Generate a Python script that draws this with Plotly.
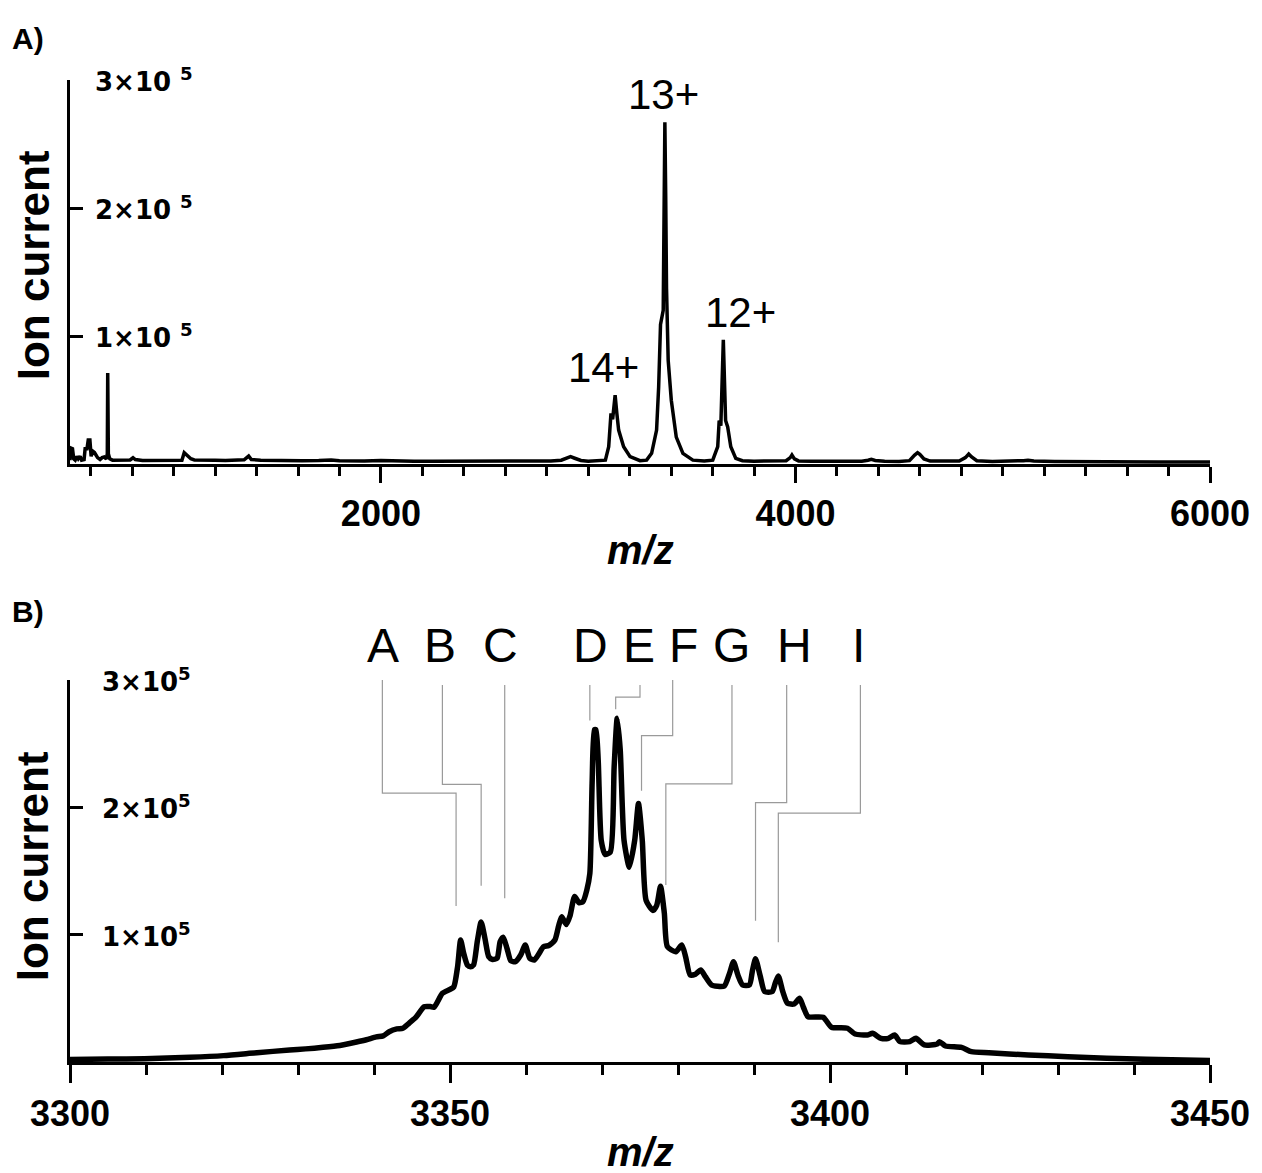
import plotly.graph_objects as go

# ---------------- Panel A: full spectrum ----------------
mz_a = [500, 505, 512, 518, 525, 533, 540, 549, 556, 568, 573, 582, 588, 596, 602, 610, 618, 625,
        633, 645, 655, 665, 675, 680, 682, 685, 692, 705, 720, 760, 790, 804, 815, 850, 900, 950,
        1000, 1040, 1051, 1065, 1083, 1100, 1150, 1200, 1250, 1300, 1340, 1362, 1375, 1420, 1480,
        1550, 1620, 1700, 1760, 1800, 1860, 1920, 2000, 2080, 2160, 2250, 2350, 2450, 2550, 2650,
        2750, 2820, 2870, 2900, 2915, 2935, 2965, 3000, 3050, 3083, 3099, 3110, 3118, 3130, 3138,
        3147, 3171, 3202, 3250, 3282, 3306, 3330, 3340, 3349, 3362, 3370, 3374, 3378, 3386, 3401,
        3425, 3457, 3505, 3560, 3601, 3625, 3632, 3640, 3652, 3663, 3673, 3688, 3712, 3744, 3800,
        3860, 3920, 3955, 3975, 3983, 3995, 4015, 4080, 4160, 4250, 4320, 4350, 4366, 4385, 4430,
        4500, 4550, 4575, 4589, 4600, 4620, 4650, 4720, 4790, 4820, 4836, 4850, 4875, 4950, 5050,
        5100, 5122, 5150, 5250, 5350, 5450, 5550, 5650, 5750, 5850, 5950, 6000]
int_a = [3000, 12500, 12000, 4000, 3000, 6000, 4000, 6000, 3000, 3500, 12000, 12000, 18700, 18700,
         6000, 10000, 9000, 6500, 5000, 3500, 5000, 5500, 4000, 8000, 71000, 8000, 4000, 3000, 3000,
         2800, 3200, 4900, 3500, 2800, 2800, 2600, 2800, 3000, 8800, 6500, 4100, 3200, 2800, 3000,
         2800, 3000, 3300, 6200, 3500, 3000, 2700, 2800, 2600, 2800, 3200, 2600, 2400, 2400, 2700,
         2300, 2200, 2200, 2100, 2100, 2000, 2000, 2100, 2300, 3000, 4500, 5700, 4500, 2800, 2200,
         2300, 3000, 13500, 39500, 35000, 53700, 40000, 26500, 13500, 5700, 2600, 3000, 8300, 26500,
         60000, 109000, 120000, 267000, 210000, 137000, 81000, 49800, 21000, 8300, 3000, 2300, 3000,
         13500, 34000, 30000, 97000, 34000, 29000, 13500, 4400, 2600, 2200, 2100, 2200, 2600, 5000,
         7000, 4000, 2400, 2100, 2000, 2000, 2200, 3000, 3600, 2800, 2100, 2000, 2600, 7000, 8800,
         7500, 4000, 2300, 2000, 2300, 5000, 7800, 5500, 2600, 2000, 2000, 2600, 3000, 2400, 2000,
         1800, 1800, 1700, 1700, 1600, 1600, 1500, 1500]

charge_labels = ["14+", "13+", "12+"]
charge_label_mz = [3072, 3363, 3734]
charge_label_int = [75500, 288700, 118000]

# ---------------- Panel B: zoom on 13+ ----------------
mz_b = [3300.0, 3305.0, 3309.8, 3315.8, 3320.2, 3324.6, 3328.9, 3331.0, 3333.3, 3335.5, 3337.7,
        3339.0, 3340.3, 3341.2, 3342.0, 3343.0, 3343.8, 3344.6, 3345.5, 3346.6, 3347.4, 3347.9,
        3349.0, 3350.0, 3350.5, 3351.0, 3351.4, 3351.8, 3352.3, 3352.7, 3353.1, 3353.6, 3354.1,
        3354.6, 3355.1, 3355.6, 3356.2, 3356.6, 3357.0, 3357.5, 3358.0, 3358.6, 3359.3, 3359.9,
        3360.5, 3361.1, 3361.7, 3362.3, 3363.0, 3363.8, 3364.3, 3364.7, 3365.3, 3365.8, 3366.4,
        3367.0, 3367.5, 3368.0, 3368.4, 3368.7, 3369.0, 3369.2, 3369.5, 3369.9, 3370.4, 3371.1,
        3371.6, 3372.0, 3372.4, 3372.9, 3373.6, 3374.3, 3374.8, 3375.3, 3375.8, 3376.7, 3377.2,
        3377.7, 3378.2, 3378.6, 3379.7, 3380.5, 3381.0, 3381.6, 3382.3, 3383.0, 3383.6, 3384.4,
        3385.2, 3386.1, 3386.8, 3387.3, 3387.9, 3388.5, 3389.4, 3389.8, 3390.2, 3390.8, 3391.4,
        3392.4, 3392.8, 3393.2, 3393.8, 3394.4, 3395.3, 3396.0, 3396.5, 3397.1, 3399.1, 3400.2,
        3402.3, 3403.3, 3404.9, 3405.6, 3406.7, 3407.7, 3408.5, 3409.2, 3410.5, 3411.3, 3412.4,
        3414.1, 3414.4, 3415.2, 3417.3, 3418.6, 3420.9, 3426.1, 3431.3, 3436.4, 3441.6, 3450.0]
int_b = [2000, 2300, 2600, 3700, 5000, 7300, 9400, 10300, 11500, 13000, 15700,
         17500, 19700, 20500, 23800, 26000, 26500, 30400, 35000, 43400, 43500, 43000,
         54000, 57000, 59000, 74900, 95800, 85400, 76000, 74900, 76200, 95000, 110000,
         97000, 82700, 80500, 81500, 94500, 98000, 89300, 79500, 78800, 84000, 91900,
         81500, 80100, 85000, 90500, 91500, 95800, 107000, 114000, 108000, 115000, 130000,
         125000, 126000, 135000, 148000, 219000, 261000, 261000, 237000, 174000, 163000, 165000,
         232000, 270000, 245000, 174000, 153000, 174000, 203000, 174000, 127000, 119000, 123000,
         138000, 117000, 90600, 86600, 91900, 82700, 68300, 69000, 72300, 67000, 60500,
         59500, 59700, 70000, 78800, 68000, 60500, 60500, 72000, 81000, 68000, 55300,
         55300, 62000, 67600, 55000, 46100, 45600, 50000, 43000, 35600, 35100, 27300,
         26500, 22000, 21200, 22500, 18600, 18600, 21200, 16000, 16000, 18600, 13400,
         14100, 16000, 12600, 11500, 8100, 7300, 5500, 4200, 2900, 2100, 1200]

# Species labels and their connector geometry (in m/z and ion-current units)
species = ["A", "B", "C", "D", "E", "F", "G", "H", "I"]
species_text_mz = [3341.2, 3348.7, 3356.7, 3368.5, 3374.9, 3380.7, 3387.0, 3395.3, 3403.8]
conn_top_mz = [3341.1, 3349.0, 3357.2, 3368.4, 3375.0, 3379.3, 3387.1, 3394.3, 3404.0]
conn_peak_mz = [3350.8, 3354.1, 3357.2, 3368.4, 3371.8, 3375.2, 3378.4, 3390.2, 3393.2]
conn_top_int = [300000, 296000, 296000, 296000, 296000, 300000, 296000, 296000, 296000]
conn_elbow_int = [211100, 218100, None, None, 286500, 256300, 218400, 203700, 195400]
conn_end_int = [122500, 138500, 128600, 268100, 277100, 213100, 139000, 111000, 94000]

y_tickvals = [100000, 200000, 300000]

# ---------------- Figure ----------------
FONT = "Liberation Sans, Arial, sans-serif"
W, H = 1262, 1173
ML, MR, MT, MB = 70, 44, 80, 111
PW, PH = W - ML - MR, H - MT - MB


def px_x(p):
    return (p - ML) / PW


def px_y(p):
    return (H - MB - p) / PH


fig = go.Figure()
fig.add_trace(go.Scatter(x=mz_a, y=int_a, mode="lines", line=dict(color="black", width=3.5),
                         xaxis="x", yaxis="y", showlegend=False))
fig.add_trace(go.Scatter(x=mz_b, y=int_b, mode="lines",
                         line=dict(color="black", width=5.5, shape="spline", smoothing=0.6),
                         xaxis="x2", yaxis="y2", showlegend=False))

axis_common = dict(showline=True, linecolor="black", linewidth=3, showgrid=False, zeroline=False,
                   ticks="outside", tickcolor="black", tickwidth=3)
xfont = dict(family=FONT, size=36, weight="bold", color="black")

fig.update_layout(
    width=W, height=H, autosize=False, margin=dict(l=ML, r=MR, t=MT, b=MB, pad=0),
    plot_bgcolor="white", paper_bgcolor="white",
    font=dict(family=FONT, color="black"),
    xaxis=dict(axis_common, domain=[0, 1], anchor="y", range=[500, 6000], tick0=0, dtick=2000,
               ticklen=16, tickfont=xfont, ticklabeloverflow="allow",
               minor=dict(tick0=0, dtick=200, ticks="outside", ticklen=9, tickwidth=3, tickcolor="black")),
    yaxis=dict(axis_common, domain=[px_y(464), 1], anchor="x", range=[0, 300000],
               tickvals=y_tickvals, ticks="inside", ticklen=13, showticklabels=False),
    xaxis2=dict(axis_common, domain=[0, 1], anchor="y2", range=[3300, 3450], tick0=3300, dtick=50,
                ticklen=18, tickfont=xfont, ticklabeloverflow="allow",
                minor=dict(tick0=3300, dtick=10, ticks="outside", ticklen=10, tickwidth=3, tickcolor="black")),
    yaxis2=dict(axis_common, domain=[0, px_y(680)], anchor="x2", range=[0, 300000],
                tickvals=y_tickvals, ticks="inside", ticklen=13, showticklabels=False),
)

ann = []
# y tick labels (drawn inside, right of the ticks)
for v in y_tickvals:
    ann.append(dict(text=f"<b>{int(v / 1e5)}×10 <sup>5</sup></b>", x=px_x(93), y=v, xref="paper", yref="y",
                    xanchor="left", yanchor="middle", showarrow=False,
                    font=dict(family="DejaVu Sans", size=26, color="black")))
    ann.append(dict(text=f"<b>{int(v / 1e5)}×10<sup>5</sup></b>", x=px_x(100), y=v, xref="paper", yref="y2",
                    xanchor="left", yanchor="middle", showarrow=False,
                    font=dict(family="DejaVu Sans", size=26, color="black")))
# panel letters
ann.append(dict(text="<b>A)</b>", x=px_x(10), y=px_y(38), xref="paper", yref="paper",
                xanchor="left", yanchor="middle", showarrow=False, font=dict(size=30)))
ann.append(dict(text="<b>B)</b>", x=px_x(10), y=px_y(612), xref="paper", yref="paper",
                xanchor="left", yanchor="middle", showarrow=False, font=dict(size=30)))
# axis titles
for yc in (265, 866):
    ann.append(dict(text="<b>Ion current</b>", x=px_x(33), y=px_y(yc), xref="paper", yref="paper",
                    xanchor="center", yanchor="middle", textangle=-90, showarrow=False,
                    font=dict(size=44)))
for yc in (550, 1152):
    ann.append(dict(text="<b><i>m/z</i></b>", x=0.5, y=px_y(yc), xref="paper", yref="paper",
                    xanchor="center", yanchor="middle", showarrow=False, font=dict(size=40)))
# charge state labels
for t, xm, yi in zip(charge_labels, charge_label_mz, charge_label_int):
    ann.append(dict(text=t, x=xm, y=yi, xref="x", yref="y", xanchor="center", yanchor="middle",
                    showarrow=False, font=dict(size=42)))
# species labels
for t, xm in zip(species, species_text_mz):
    ann.append(dict(text=t, x=xm, y=px_y(646), xref="x2", yref="paper", xanchor="center",
                    yanchor="middle", showarrow=False, font=dict(size=48)))
fig.update_layout(annotations=ann)

shapes = []
for xt, xp, yt, ye, yend in zip(conn_top_mz, conn_peak_mz, conn_top_int, conn_elbow_int, conn_end_int):
    if ye is None:
        path = f"M {xt},{yt} L {xt},{yend}"
    else:
        path = f"M {xt},{yt} L {xt},{ye} L {xp},{ye} L {xp},{yend}"
    shapes.append(dict(type="path", path=path, xref="x2", yref="y2",
                       line=dict(color="#9a9a9a", width=1.2)))
fig.update_layout(shapes=shapes)

post = ("document.body.style.margin='0';document.body.style.overflow='hidden';"
        "Plotly.relayout('{plot_id}', {width: 1262, height: 1173});")
fig.write_html("out.html", config={"displayModeBar": False, "responsive": False},
               post_script=post)
